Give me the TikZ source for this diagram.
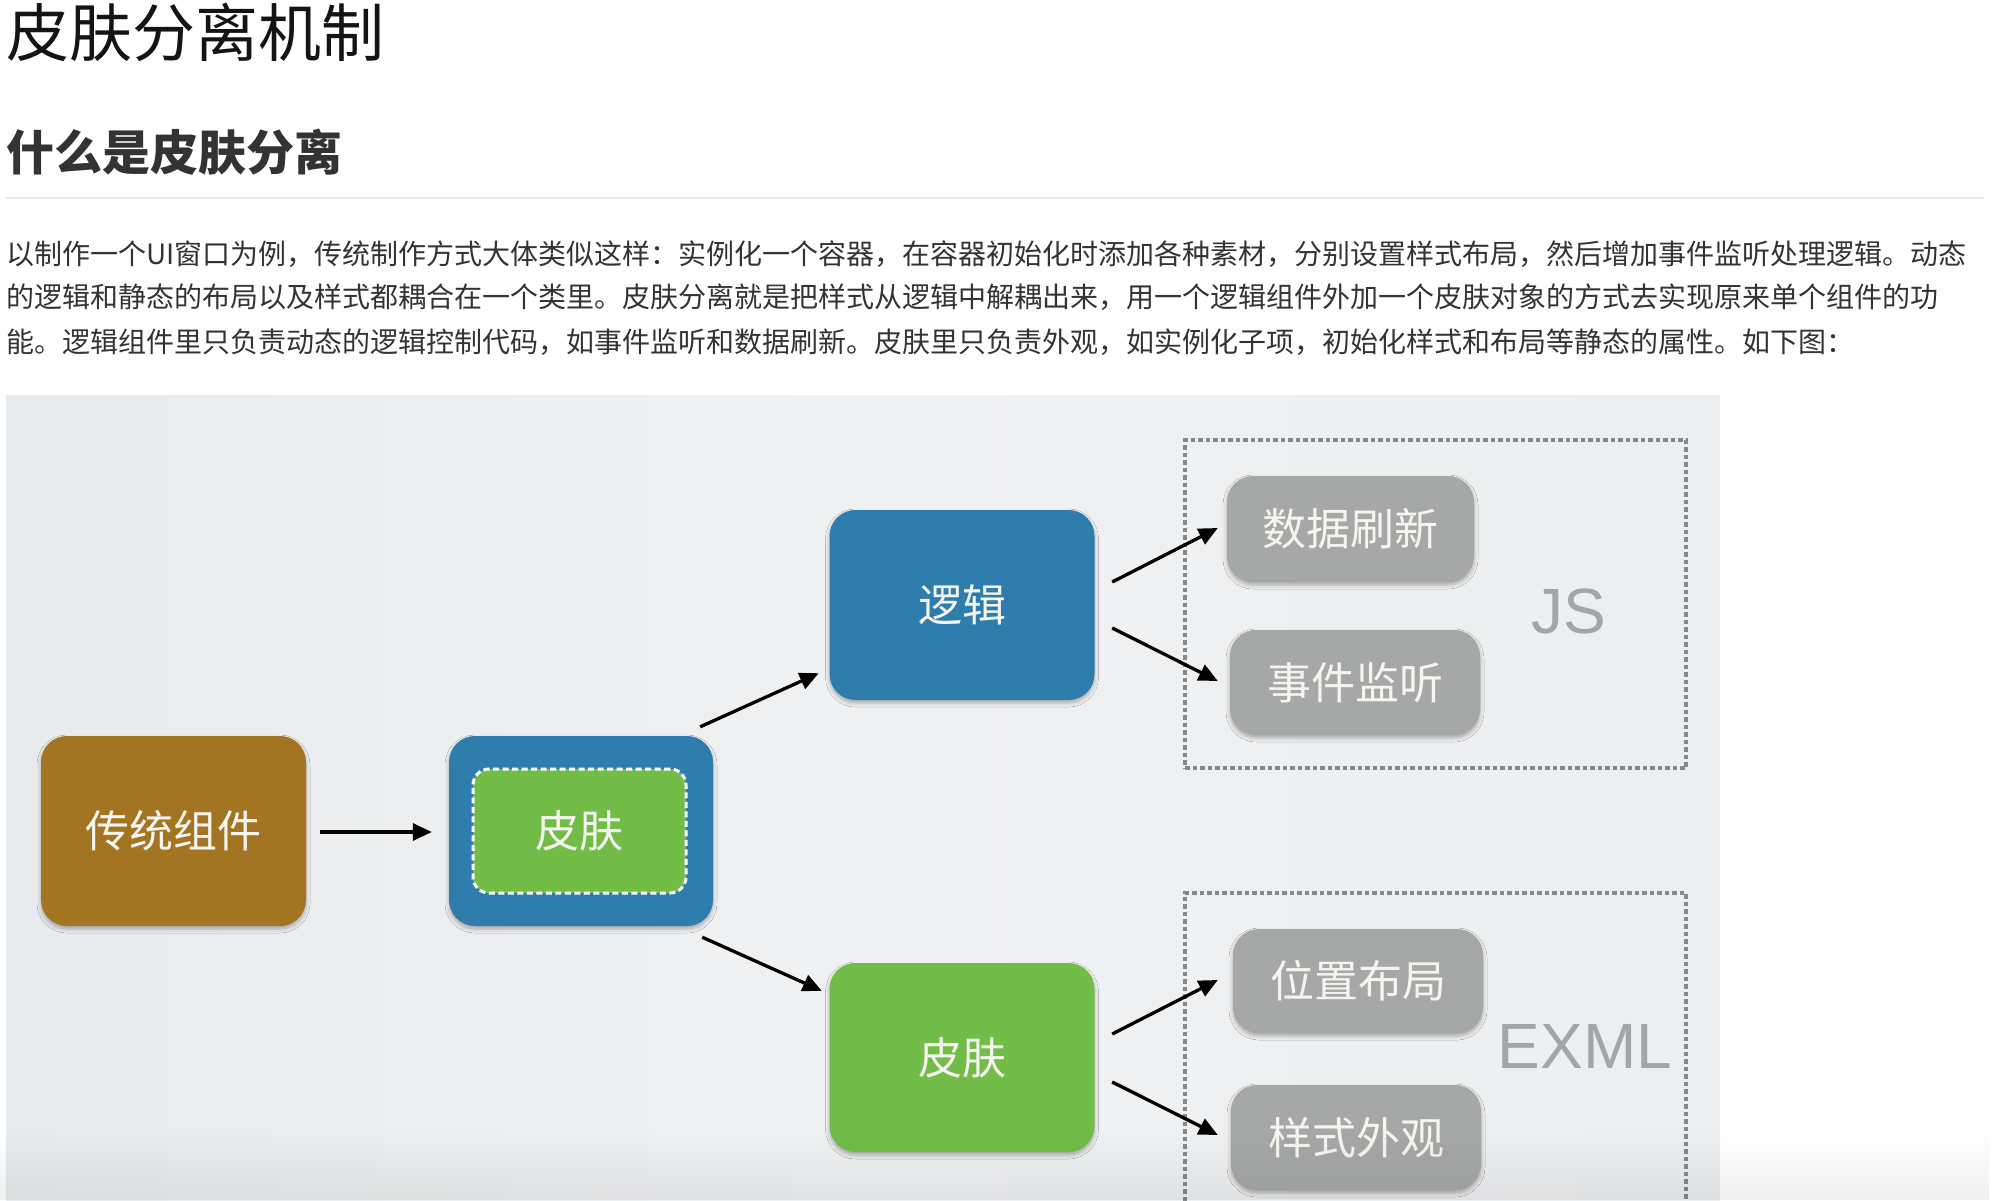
\documentclass[tikz,border=0pt]{standalone}
\usepackage{fontspec}
\setmainfont{Noto Sans CJK SC}
\newfontfamily\latinfont{Liberation Sans}
\usetikzlibrary{arrows.meta,calc,shadows.blur,fadings}
\definecolor{brownbox}{HTML}{A37422}
\definecolor{bluebox}{HTML}{2F7DAD}
\definecolor{greenbox}{HTML}{72BC48}
\definecolor{graybox}{HTML}{A5A8A7}
\definecolor{boxtext}{HTML}{F5F5F0}
\definecolor{dashgray}{HTML}{86888A}
\definecolor{labelgray}{HTML}{A3A5A6}
\definecolor{bgleft}{HTML}{E8EBED}
\definecolor{bgmid}{HTML}{F0F1F2}
\definecolor{bgright}{HTML}{EDEEF0}
\definecolor{bodytext}{HTML}{333333}
\definecolor{rulegray}{HTML}{EEEEEE}
\tikzfading[name=fadeup, top color=transparent!100, bottom color=transparent!0]
\begin{document}
\begin{tikzpicture}[x=1pt,y=-1pt,
  softshadow/.style={blur shadow={shadow xshift=0pt, shadow yshift=-3pt, shadow blur radius=4pt, shadow opacity=30}},
  bigbox/.style={rounded corners=26pt, minimum width=265pt, minimum height=190pt, inner sep=0pt,
    text=boxtext, font=\fontsize{44}{50}\selectfont, softshadow},
  innerbox/.style={rounded corners=16pt, minimum width=213pt, minimum height=124pt, inner sep=0pt,
    fill=greenbox, draw=white, line width=3pt, dash pattern=on 6pt off 3.5pt,
    text=boxtext, font=\fontsize{44}{50}\selectfont},
  smallbox/.style={rounded corners=26pt, fill=graybox, inner sep=0pt, text=boxtext,
    font=\fontsize{44}{50}\selectfont, softshadow},
  groupbox/.style={draw=dashgray, line width=3.5pt, dash pattern=on 4.5pt off 3pt,
    minimum width=501pt, inner sep=0pt},
  grouplabel/.style={inner sep=0pt, text=labelgray, font=\latinfont\fontsize{64}{70}\selectfont},
  para/.style={anchor=west, inner sep=0pt, text=bodytext, font=\fontsize{28}{32}\selectfont},
  arr/.style={line width=3.3pt, -{Triangle[length=19pt,width=17pt]}}
]
\useasboundingbox (0,0) rectangle (2000,1200);
\fill[white] (0,0) rectangle (2000,1200);

% title and text
\node[anchor=west, inner sep=0pt, text=black!92, font=\fontsize{63}{70}\selectfont] (title) at (6,32) {皮肤分离机制};
\node[anchor=west, inner sep=0pt, text=bodytext, font=\bfseries\fontsize{48}{54}\selectfont] (heading) at (6,152) {什么是皮肤分离};
\draw[rulegray, line width=2pt] (6,198) -- (1984,198);
\node[para] (p1) at (6,254) {以制作一个UI窗口为例，传统制作方式大体类似这样：实例化一个容器，在容器初始化时添加各种素材，分别设置样式布局，然后增加事件监听处理逻辑。动态};
\node[para] (p2) at (6,297) {的逻辑和静态的布局以及样式都耦合在一个类里。皮肤分离就是把样式从逻辑中解耦出来，用一个逻辑组件外加一个皮肤对象的方式去实现原来单个组件的功};
\node[para] (p3) at (6,342) {能。逻辑组件里只负责动态的逻辑控制代码，如事件监听和数据刷新。皮肤里只负责外观，如实例化子项，初始化样式和布局等静态的属性。如下图：};

\begin{scope}
\clip (0,0) rectangle (2000,1200);
% diagram background
\shade[left color=bgleft, right color=bgright, middle color=bgmid] (6,395) rectangle (1720,1200);

% group boxes
\node[groupbox, minimum height=328pt] (jsbox) at (1435.5,604) {};
\node[groupbox, minimum height=337pt] (exmlbox) at (1435.5,1061.5) {};
\node[grouplabel] (jslabel) at (1569,611) {JS};
\node[grouplabel] (exmllabel) at (1585,1046) {EXML};

% main boxes
\node[bigbox, fill=brownbox] (trad) at (173.5,831) {传统组件};
\node[bigbox, fill=bluebox, minimum width=264pt] (skinouter) at (581,831) {};
\node[innerbox] (skininner) at (579.5,831) {皮肤};
\node[bigbox, fill=bluebox] (logic) at (962,605) {逻辑};
\node[bigbox, fill=greenbox, minimum height=189pt] (skin) at (962,1057.5) {皮肤};

% gray boxes
\node[smallbox, minimum width=247pt, minimum height=106pt] (data) at (1350.5,529) {数据刷新};
\node[smallbox, minimum width=250pt, minimum height=105pt] (event) at (1355,682.5) {事件监听};
\node[smallbox, minimum width=250pt, minimum height=104pt] (layout) at (1358,981) {位置布局};
\node[smallbox, minimum width=250pt, minimum height=105pt] (style) at (1356,1137.5) {样式外观};

% arrows
\draw[arr] ($(trad.east)+(14,1)$) -- ($(skinouter.west)+(-17,1)$);
\draw[arr] ($(skinouter.north east)+(-13,-9)$) -- ($(logic.south west)+(-10.5,-27)$);
\draw[arr] ($(skinouter.south east)+(-11,11)$) -- ($(skin.north west)+(-7.5,28)$);
\draw[arr] ($(logic.east)+(17.5,-23)$) -- ($(data.west)+(-9,-1)$);
\draw[arr] ($(logic.east)+(17.5,23)$) -- ($(event.west)+(-12,-1.5)$);
\draw[arr] ($(skin.east)+(17.5,-23.5)$) -- ($(layout.west)+(-15,-1)$);
\draw[arr] ($(skin.east)+(17.5,24.5)$) -- ($(style.west)+(-13,-2.5)$);

% bottom fade
\fill[black, opacity=0.06, path fading=fadeup] (0,1130) rectangle (2000,1200);
\end{scope}
\end{tikzpicture}
\end{document}
